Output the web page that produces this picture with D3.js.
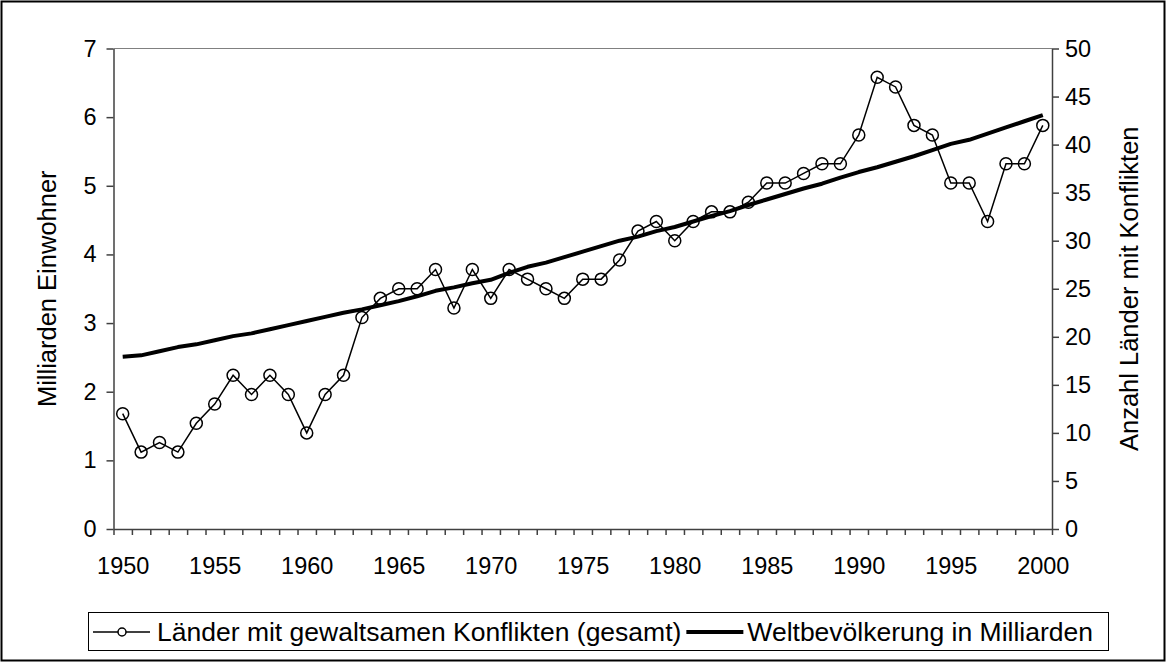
<!DOCTYPE html>
<html>
<head>
<meta charset="utf-8">
<script src="https://cdn.jsdelivr.net/npm/d3@7"></script>
<style>
	body { margin: 0; background: #fff; }
	svg { display: block; font-family: "Liberation Sans", Arial, sans-serif; }
	.axis path, .axis line { stroke: #404040; }
	.axis text { font-size: 23.5px; fill: #000; font-family: "Liberation Sans", Arial, sans-serif; }
</style>
</head>
<body>
<svg id="chart" width="1166" height="663"></svg>
<script>
// years on the category axis
const YEARS = d3.range(1950, 2001);

// number of countries with violent conflicts (right axis)
const CONFLICTS = [12, 8, 9, 8, 11, 13, 16, 14, 16, 14,
	10, 14, 16, 22, 24, 25, 25, 27, 23, 27,
	24, 27, 26, 25, 24, 26, 26, 28, 31, 32,
	30, 32, 33, 33, 34, 36, 36, 37, 38, 38,
	41, 47, 46, 42, 41, 36, 36, 32, 38, 38,
	42];

// world population in billions (left axis)
const POPULATION = [2.51, 2.53, 2.59, 2.65, 2.69, 2.75, 2.81, 2.85, 2.91, 2.97,
	3.03, 3.09, 3.15, 3.20, 3.26, 3.32, 3.39, 3.47, 3.52, 3.58,
	3.63, 3.73, 3.82, 3.88, 3.96, 4.04, 4.12, 4.20, 4.26, 4.34,
	4.40, 4.48, 4.56, 4.63, 4.72, 4.80, 4.88, 4.96, 5.03, 5.12,
	5.20, 5.27, 5.35, 5.43, 5.52, 5.61, 5.67, 5.76, 5.85, 5.94,
	6.03];

const LEFT_TICKS = [0, 1, 2, 3, 4, 5, 6, 7];
const RIGHT_TICKS = [0, 5, 10, 15, 20, 25, 30, 35, 40, 45, 50];
const X_LABELS = [1950, 1955, 1960, 1965, 1970, 1975, 1980, 1985, 1990, 1995, 2000];

const LEFT_TITLE = 'Milliarden Einwohner';
const RIGHT_TITLE = 'Anzahl Länder mit Konflikten';
const LEGEND_CONFLICTS = 'Länder mit gewaltsamen Konflikten (gesamt)';
const LEGEND_POPULATION = 'Weltbevölkerung in Milliarden';

const PLOT = { left: 113.5, right: 1052, top: 48.5, bottom: 529 };

const svg = d3.select('#chart');

// outer frame
svg.append('rect')
	.attr('x', 1.5).attr('y', 1.5)
	.attr('width', 1163).attr('height', 659)
	.attr('fill', 'none').attr('stroke', '#000').attr('stroke-width', 2);

// scales: each year sits in the middle of its category slot
const x = d3.scaleLinear()
	.domain([1949.5, 2000.5])
	.range([PLOT.left, PLOT.right]);
const yLeft = d3.scaleLinear().domain([0, 7]).range([PLOT.bottom, PLOT.top]);
const yRight = d3.scaleLinear().domain([0, 50]).range([PLOT.bottom, PLOT.top]);

// plot area top border (gray)
svg.append('line')
	.attr('x1', PLOT.left).attr('x2', PLOT.right)
	.attr('y1', PLOT.top).attr('y2', PLOT.top)
	.attr('stroke', '#808080').attr('stroke-width', 1);

// x axis: tick marks between categories, labels every five years
const bounds = d3.range(1949.5, 2001, 1);
svg.append('g')
	.attr('class', 'axis')
	.attr('transform', `translate(0,${PLOT.bottom})`)
	.call(d3.axisBottom(x).tickValues(bounds).tickSize(6).tickSizeOuter(0).tickFormat(''))
	.call(g => g.selectAll('line, path').attr('stroke-width', 1.5));
svg.append('g')
	.attr('class', 'axis')
	.attr('transform', `translate(0,${PLOT.bottom})`)
	.call(d3.axisBottom(x).tickValues(X_LABELS).tickSize(0).tickPadding(28).tickFormat(d3.format('d')))
	.call(g => g.select('.domain').remove());

// left axis
svg.append('g')
	.attr('class', 'axis')
	.attr('transform', `translate(${PLOT.left},0)`)
	.call(d3.axisLeft(yLeft).tickValues(LEFT_TICKS).tickSize(7).tickSizeOuter(0).tickPadding(10).tickFormat(d3.format('d')))
	.call(g => g.selectAll('line, path').attr('stroke-width', 1.5));

// right axis
svg.append('g')
	.attr('class', 'axis')
	.attr('transform', `translate(${PLOT.right},0)`)
	.call(d3.axisRight(yRight).tickValues(RIGHT_TICKS).tickSize(7).tickSizeOuter(0).tickPadding(6).tickFormat(d3.format('d')))
	.call(g => g.selectAll('line, path').attr('stroke-width', 1.5));

// axis titles
svg.append('text')
	.attr('transform', `translate(47,${(PLOT.top + PLOT.bottom) / 2}) rotate(-90)`)
	.attr('text-anchor', 'middle').attr('dy', '0.35em')
	.style('font-size', '25.5px')
	.text(LEFT_TITLE);
svg.append('text')
	.attr('transform', `translate(1129,${(PLOT.top + PLOT.bottom) / 2}) rotate(-90)`)
	.attr('text-anchor', 'middle').attr('dy', '0.35em')
	.style('font-size', '25.5px')
	.text(RIGHT_TITLE);

// population line
const popData = YEARS.map((yr, i) => ({ year: yr, value: POPULATION[i] }));
svg.append('path')
	.datum(popData)
	.attr('fill', 'none')
	.attr('stroke', '#000')
	.attr('stroke-width', 4)
	.attr('stroke-linejoin', 'round')
	.attr('d', d3.line().x(d => x(d.year)).y(d => yLeft(d.value)));

// conflict line with open circles
const conflictData = YEARS.map((yr, i) => ({ year: yr, value: CONFLICTS[i] }));
svg.append('path')
	.datum(conflictData)
	.attr('fill', 'none')
	.attr('stroke', '#000')
	.attr('stroke-width', 1.5)
	.attr('d', d3.line().x(d => x(d.year)).y(d => yRight(d.value)));

svg.append('g')
	.selectAll('circle')
	.data(conflictData)
	.enter().append('circle')
	.attr('cx', d => x(d.year))
	.attr('cy', d => yRight(d.value))
	.attr('r', 6)
	.attr('fill', 'none')
	.attr('stroke', '#000')
	.attr('stroke-width', 1.5);

// legend
const legend = svg.append('g');
legend.append('rect')
	.attr('x', 88.5).attr('y', 612.5)
	.attr('width', 1020).attr('height', 38)
	.attr('fill', '#fff').attr('stroke', '#000').attr('stroke-width', 1);

const ly = 632;
legend.append('line')
	.attr('x1', 93).attr('x2', 150).attr('y1', ly).attr('y2', ly)
	.attr('stroke', '#000').attr('stroke-width', 1.5);
legend.append('circle')
	.attr('cx', 122).attr('cy', ly).attr('r', 4)
	.attr('fill', '#fff').attr('stroke', '#000').attr('stroke-width', 1.5);
const t1 = legend.append('text')
	.attr('x', 157).attr('y', ly).attr('dy', '0.35em')
	.style('font-size', '26.5px')
	.text(LEGEND_CONFLICTS);

const x2 = 157 + t1.node().getComputedTextLength() + 5;
legend.append('line')
	.attr('x1', x2).attr('x2', x2 + 57).attr('y1', ly).attr('y2', ly)
	.attr('stroke', '#000').attr('stroke-width', 4);
legend.append('text')
	.attr('x', x2 + 61).attr('y', ly).attr('dy', '0.35em')
	.style('font-size', '26.5px')
	.text(LEGEND_POPULATION);
</script>
</body>
</html>
